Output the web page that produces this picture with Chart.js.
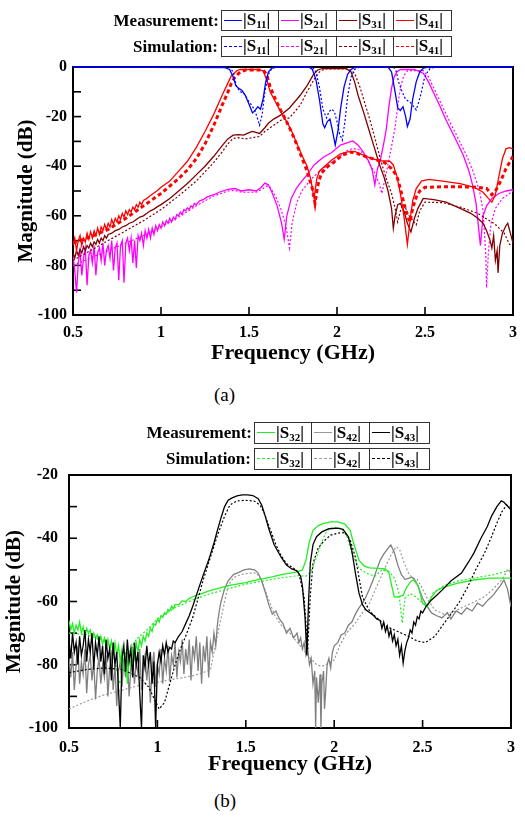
<!DOCTYPE html>
<html><head><meta charset="utf-8">
<script src="https://cdn.jsdelivr.net/npm/chart.js@4.4.1/dist/chart.umd.min.js"></script>
<style>
html,body{margin:0;padding:0;background:#fff;}
body{width:525px;height:822px;position:relative;overflow:hidden;font-family:"Liberation Serif","Times New Roman",serif;}
canvas{position:absolute;left:0;}
.lab{position:absolute;font-weight:bold;font-size:17px;text-align:right;white-space:nowrap;}
.cell{position:absolute;box-sizing:border-box;border:1.5px solid #333;background:#fff;}
.smp{position:absolute;left:2px;width:18px;height:0;}
.txt{position:absolute;left:21px;top:0;font-weight:bold;font-size:17px;white-space:nowrap;}
.txt sub{font-size:11px;vertical-align:-3px;line-height:0;}
.cap{position:absolute;font-size:19px;}
</style>
</head><body>
<canvas id="ca" width="525" height="367" style="top:0px"></canvas>
<canvas id="cb" width="525" height="358" style="top:420px"></canvas>
<div class="cap" style="left:214px;top:384px;">(a)</div>
<div class="cap" style="left:214px;top:790px;">(b)</div>
<script>
// ---------- shared frequency grid for noisy regions (GHz) ----------
const fGrid = [0.50,0.51,0.52,0.53,0.54,0.55,0.56,0.57,0.58,0.59,0.60,0.61,0.62,0.63,0.64,0.65,0.66,0.67,0.68,0.69,0.70,0.71,0.72,0.73,0.74,0.75,0.76,0.77,0.78,0.79,0.80,0.81,0.82,0.83,0.84,0.85,0.86,0.87,0.88,0.89,0.90,0.91,0.92,0.93,0.94,0.95,0.96,0.97,0.98,0.99,1.00,1.01,1.02,1.03,1.04,1.05,1.06,1.07,1.08,1.09,1.10,1.11,1.12,1.13,1.14,1.15,1.16,1.17,1.18,1.19,1.20,1.21,1.22,1.23,1.24,1.25,1.26,1.27,1.28,1.29,1.30];

// ---------- tick labels ----------
const xTickLabels = ['0.5','1','1.5','2','2.5','3'];
const yTickLabelsA = ['0','-20','-40','-60','-80','-100'];
const yTickLabelsB = ['-20','-40','-60','-80','-100'];

// ---------- legend categories ----------
const legendA = ['11','21','31','41'];
const legendB = ['32','42','43'];

// ================= Chart (a) =================
// |S11| measured
const fS11m = [0.5,1.36,1.39,1.41,1.425,1.44,1.46,1.48,1.50,1.52,1.535,1.55,1.565,1.58,1.595,1.61,1.63,1.66,1.84,1.86,1.88,1.90,1.92,1.93,1.945,1.96,1.975,1.99,2.005,2.02,2.04,2.06,2.08,2.10,2.13,2.29,2.31,2.33,2.345,2.36,2.375,2.39,2.40,2.415,2.43,2.45,2.47,2.49,2.52,3.0];
const s11m = [0,-0.2,-1,-4,-7.5,-8.5,-9.5,-11.5,-15,-18.5,-17.5,-16,-17,-13,-6,-2,-0.4,0,0,-1,-5,-13,-23,-24.5,-22,-21,-26,-31.5,-26,-17,-8,-3,-1,-0.2,0,0,-2,-10,-16.5,-17.5,-16,-20,-24,-21,-13,-6,-2,-0.5,0,0];
// |S11| simulated
const fS11s = [0.5,1.39,1.41,1.43,1.45,1.47,1.49,1.51,1.53,1.545,1.56,1.575,1.59,1.61,1.63,1.66,1.86,1.88,1.90,1.92,1.94,1.955,1.97,1.985,2.00,2.015,2.03,2.045,2.06,2.08,2.10,2.13,2.32,2.335,2.35,2.37,2.39,2.42,2.45,2.465,2.48,2.495,2.51,2.53,2.56,3.0];
const s11s = [0,0,-2,-8,-10,-10.5,-13,-15,-17,-20,-23.5,-19,-10,-3,-0.5,0,0,-2,-8,-17,-20.5,-18,-17,-18,-22,-27,-29.5,-22,-12,-4,-1,0,0,-1.5,-6,-10,-13,-14.5,-17.3,-14,-10,-5,-2.5,-0.5,0,0];

// |S21| measured
const fS21m = fGrid.slice(0,71).concat([1.22,1.24,1.26,1.28,1.30,1.33,1.36,1.38,1.42,1.46,1.50,1.54,1.57,1.59,1.61,1.63,1.66,1.685,1.70,1.715,1.74,1.77,1.80,1.83,1.87,1.92,1.97,2.02,2.06,2.09,2.12,2.15,2.18,2.20,2.215,2.23,2.245,2.265,2.28,2.295,2.31,2.325,2.34,2.36,2.44,2.49,2.52,2.546,2.58,2.62,2.67,2.717,2.75,2.77,2.79,2.815,2.83,2.85,2.88,2.92,2.96,3.0]);
const s21m = [-76,-82,-91,-79,-74,-84,-77,-73,-88,-76,
  -74,-79,-72,-84,-75,-73,-78,-71,-80,-74,
  -72,-77,-70,-82,-73,-71,-86,-72,-70,-87,
  -71,-69,-74,-69,-79,-70,-81,-68,-70,-67,
  -72,-66,-69,-65.5,-69,-65,-67.5,-64,-66,-63.5,
  -65,-62.5,-64,-62,-63,-61,-62.5,-60.5,-61.5,-59.5,
  -60,-58.5,-59.5,-57.5,-58,-56.8,-57.5,-56,-56.5,-55,
  -55.5,
  -54,-53.5,-52.5,-52,-51.5,-50.5,-49.8,-49.3,-49,-50,-49.5,-50,-48.5,-46.8,-47.5,-50.5,-56,-63,-69.5,-60,-53,-48.8,-46,-43.5,-39.5,-36.5,-34.5,-31.5,-30.5,-29.8,-31.5,-34.3,-38,-41.5,-47.5,-41,-38,-31,-25,-16,-8.5,-4,-2,-1,-1,-2.5,-6,-10,-15,-21.5,-28.5,-35.5,-42,-47.5,-55,-72,-60,-56,-53,-51,-50,-49.5];
// |S21| simulated
const fS21s = [0.5,0.6,0.7,0.8,0.9,1.0,1.1,1.2,1.3,1.38,1.42,1.46,1.50,1.54,1.58,1.60,1.62,1.65,1.68,1.71,1.73,1.745,1.77,1.80,1.85,1.90,1.95,2.00,2.05,2.09,2.13,2.17,2.21,2.24,2.255,2.27,2.285,2.31,2.33,2.35,2.365,2.38,2.40,2.49,2.52,2.56,2.60,2.64,2.69,2.735,2.77,2.81,2.83,2.845,2.85,2.86,2.875,2.9,2.94,3.0];
const s21s = [-80,-77,-74,-71,-68,-64.5,-60.5,-56,-52,-50,-49.8,-50.5,-50.5,-50.5,-49,-48,-48.5,-52,-57,-64,-73,-63,-55,-50,-45.5,-42,-39.5,-37,-34,-32.8,-33.5,-37,-42,-47,-51,-46,-41,-32,-24.5,-13,-7,-3.5,-1.5,-1.5,-4,-10,-16,-22,-29,-35.5,-41.5,-50,-58,-75,-89,-75,-63,-57,-53,-50];

// |S31| measured
const fS31m = fGrid.slice(0,21).concat([0.72,0.74,0.76,0.78,0.80,0.82,0.84,0.86,0.88,0.90,0.92,0.94,0.96,0.98,1.0,1.05,1.1,1.15,1.2,1.25,1.3,1.35,1.38,1.41,1.44,1.47,1.50,1.52,1.56,1.59,1.61,1.64,1.68,1.73,1.79,1.83,1.865,1.89,1.92,2.05,2.08,2.10,2.12,2.15,2.18,2.21,2.24,2.27,2.29,2.31,2.32,2.33,2.345,2.36,2.38,2.40,2.42,2.44,2.46,2.49,2.55,2.62,2.70,2.76,2.80,2.83,2.85,2.87,2.88,2.89,2.90,2.91,2.915,2.925,2.94,2.96,2.97,2.985,3.0]);
const s31m = [-75,-77,-74,-76,-73.5,-75,-72.5,-74,-72,-73,-71,-72.5,-70.5,-71.5,-69.5,-71,-69,-70,-68,-69,-67.5,
  -67,-66,-65.5,-64.5,-64,-63,-62.5,-61.5,-60.5,-60,-59,-58,-57.3,-56.3,-55.5,-53,-50,-47,-43.5,-40,-36,-31.5,-29,-27.5,-27.3,-27.5,-26.5,-26,-26.8,-24.5,-22.7,-21,-19.4,-16.5,-11.5,-7.5,-3.2,-1.2,-0.6,-0.6,-2,-6,-11.5,-18,-25,-32,-39,-45,-50,-57,-65,-60,-55.5,-55,-58,-63,-66.5,-61,-57,-53,-53.5,-54.5,-57,-59,-61,-63,-66,-70,-73,-68,-78,-74,-83,-72,-67,-64,-63,-67,-71];
// |S31| simulated
const fS31s = [0.5,0.6,0.7,0.8,0.9,1.0,1.1,1.2,1.3,1.35,1.38,1.41,1.44,1.48,1.52,1.56,1.59,1.62,1.68,1.73,1.79,1.83,1.87,1.90,1.93,2.07,2.10,2.13,2.16,2.19,2.22,2.25,2.28,2.31,2.33,2.345,2.36,2.375,2.39,2.41,2.45,2.47,2.50,2.6,2.7,2.8,2.9,2.95,2.98,3.0];
const s31s = [-78,-74,-70,-66,-62,-57.5,-52,-46,-38.5,-34,-31,-28.8,-28.5,-29,-28.5,-28,-26,-24.5,-21.5,-20.5,-15.5,-10,-5,-2,-0.8,-0.8,-2.5,-8,-15,-22,-30,-38,-45,-51,-57,-62.5,-58,-55.5,-57,-60,-63.7,-58,-54.5,-54.7,-56.5,-59,-63.5,-67,-71.5,-72];

// |S41| measured
const fS41m = fGrid.slice(0,41).concat([0.92,0.94,0.96,0.98,1.0,1.05,1.1,1.15,1.2,1.25,1.3,1.35,1.38,1.40,1.43,1.45,1.55,1.58,1.60,1.62,1.65,1.68,1.71,1.74,1.77,1.80,1.83,1.85,1.87,1.885,1.90,1.93,1.97,2.02,2.06,2.10,2.15,2.20,2.25,2.30,2.32,2.34,2.36,2.38,2.40,2.415,2.43,2.45,2.48,2.52,2.6,2.7,2.78,2.83,2.86,2.88,2.90,2.92,2.94,2.96,2.98,3.0]);
const s41m = [-72,-69,-74,-70,-68,-72,-69,-70.5,-67,-69.5,
  -66.5,-69,-66,-68,-65,-67.5,-64.5,-66,-63.5,-65.5,
  -63,-64.5,-61.5,-63.5,-61,-62.5,-60,-61.5,-59,-60.5,
  -58,-59.5,-57.5,-58.5,-56.5,-57.5,-55.5,-56.5,-54.5,-55.5,
  -53.8,
  -53,-51.8,-50.8,-49.8,-48.5,-46,-42,-38,-32.5,-26,-19,-11,-6.5,-3.5,-1.5,-1,-1,-1.5,-5,-10,-14,-18,-21.5,-25.5,-30.5,-35.5,-40,-45,-53,-45,-42,-40,-37.5,-35,-34.2,-34,-35.5,-37,-37.8,-38,-39.5,-44,-51,-60,-71.5,-62,-54,-49,-46,-45.3,-46,-47,-48.5,-50.5,-53,-54.5,-51.5,-44,-37,-33,-32.5,-33];
// |S41| simulated
const fS41s = [0.5,0.6,0.7,0.8,0.9,1.0,1.05,1.1,1.15,1.2,1.25,1.28,1.3,1.35,1.375,1.40,1.42,1.45,1.48,1.58,1.60,1.62,1.65,1.68,1.71,1.74,1.77,1.80,1.83,1.86,1.875,1.89,1.91,1.94,1.98,2.03,2.08,2.12,2.17,2.22,2.27,2.31,2.34,2.36,2.38,2.40,2.415,2.43,2.45,2.47,2.50,2.6,2.7,2.8,2.85,2.88,2.90,2.93,2.96,3.0];
const s41s = [-71,-68.5,-65.5,-61,-56,-51,-48,-45,-41.5,-37,-31,-26.5,-23.5,-15,-11,-6.5,-4,-2,-1.2,-1.2,-3,-8,-13,-17.5,-21.5,-26,-31,-36.5,-42,-49,-55,-48,-43,-40.5,-38.5,-35.5,-34.3,-35,-36.3,-37.3,-38.5,-41,-44,-49,-55,-60,-62.5,-57,-52.5,-50,-48.5,-48.3,-48.3,-48.5,-49,-51.5,-50,-46,-41,-36];

// ================= Chart (b) =================
// |S32| measured
const fS32m = fGrid.slice(0,61).concat([1.12,1.14,1.16,1.18,1.20,1.25,1.30,1.35,1.40,1.45,1.50,1.55,1.60,1.65,1.70,1.75,1.79,1.82,1.84,1.86,1.88,1.91,1.94,1.98,2.02,2.06,2.09,2.11,2.14,2.17,2.20,2.25,2.29,2.31,2.325,2.34,2.365,2.39,2.41,2.435,2.45,2.475,2.50,2.525,2.55,2.58,2.61,2.65,2.70,2.79,2.88,3.0]);
const s32m = [-66,-69,-67,-70,-67.5,-69,-66.5,-70,-68,-71,
  -68.5,-70,-69,-72,-70,-71.5,-70.5,-73,-71,-73.5,
  -71.5,-74,-72,-75,-72.5,-76,-73,-77,-74,-79,
  -75,-82,-76,-86,-77,-80,-75,-78,-73,-76,
  -72,-74,-71,-72.5,-70,-71,-68.5,-69.5,-67,-67.5,
  -65.5,-66.5,-64.5,-65,-63.5,-64,-62.5,-63,-61.5,-62.3,
  -61,
  -61,-59.8,-60,-59,-58.5,-57.5,-56.5,-55.8,-55,-54.5,-54,-53.3,-52.8,-52.2,-51.5,-51,-50.6,-50,-47,-41,-37.5,-36,-35.3,-34.8,-34.8,-35.5,-37.5,-41.6,-46.9,-48.8,-49.4,-49.5,-49.7,-51,-55,-58.6,-58.5,-58,-55.5,-53.5,-53.2,-55,-60.5,-61.7,-58.6,-56.5,-55.7,-55,-54.2,-53.2,-52.6,-52.6];
// |S32| simulated
const fS32s = [0.5,0.6,0.7,0.73,0.76,0.785,0.81,0.84,0.88,0.9,0.95,1.0,1.1,1.2,1.3,1.4,1.5,1.6,1.7,1.8,1.84,1.87,1.90,1.93,1.96,2.0,2.04,2.07,2.10,2.14,2.18,2.23,2.27,2.31,2.34,2.365,2.385,2.40,2.43,2.46,2.49,2.53,2.56,2.62,2.7,2.8,2.9,3.0];
const s32s = [-70,-70.5,-72.5,-74,-79,-86,-82,-76,-72,-71,-68.5,-65.5,-62,-59.5,-57.5,-56,-54.5,-53.5,-52.5,-51.8,-52,-50.5,-46,-41,-37.5,-36.5,-37,-39,-44.8,-49.5,-51,-52,-50,-50.5,-52.5,-57,-66.8,-59,-57.5,-58.5,-60,-61,-57.3,-55,-53.5,-52.5,-51.5,-50];

// |S42| measured
const fS42m = fGrid.concat([1.31,1.32,1.33,1.34,1.35,1.36,1.37,1.38,1.40,1.43,1.46,1.49,1.52,1.55,1.57,1.59,1.61,1.63,1.65,1.67,1.69,1.71,1.73,1.75,1.77,1.79,1.80,1.81,1.82,1.83,1.84,1.85,1.86,1.87,1.88,1.89,1.895,1.90,1.91,1.92,1.925,1.93,1.94,1.945,1.95,1.96,1.97,1.98,1.99,2.00,2.02,2.04,2.06,2.08,2.10,2.12,2.14,2.16,2.18,2.20,2.22,2.24,2.26,2.28,2.30,2.32,2.34,2.36,2.38,2.40,2.42,2.44,2.46,2.48,2.50,2.52,2.55,2.58,2.61,2.64,2.66,2.69,2.72,2.75,2.78,2.81,2.84,2.87,2.90,2.92,2.94,2.96,2.98,3.0]);
const s42m = [-78,-84,-76,-88,-80,-74,-86,-79,-83,-75,
  -89,-80,-77,-85,-79,-91,-82,-78,-86,-80,
  -84,-77,-90,-81,-76,-88,-80,-93,-82,-79,
  -87,-78,-84,-76,-90,-81,-77,-86,-79,-83,
  -75,-88,-80,-77,-85,-79,-92,-81,-76,-87,
  -80,-83,-75,-86,-78,-82,-74,-85,-77,-80,
  -73,-84,-76,-79,-72,-83,-75,-80,-72,-85,
  -74,-78,-71,-82,-73,-86,-74,-79,-71,-84,
  -73,
  -76,-70,-74,-67,-63,-60,-58,-56,-53.5,-51.5,-50.8,-50,-49.7,-50,-51,-53.5,-57,-61,-64,-63,-65.5,-67,-70,-68.5,-71.5,-70,-73,-71.5,-75,-73,-77,-75,-80,-78,-86,-82,-100,-84,-92,-83,-100,-86,-82,-94,-90,-80,-78,-81,-76,-74,-73,-70.5,-70,-67.5,-66.5,-64,-62,-60.5,-58.5,-56,-53.2,-50,-47,-45,-43.5,-42.1,-44.5,-48.5,-51.5,-53,-52.7,-52.3,-53.5,-56,-59,-61,-63.6,-64.5,-65.2,-63.5,-65.5,-63,-64,-62,-63,-60.5,-61.5,-59.5,-58,-56.4,-55,-53.2,-56,-61.7];
// |S42| simulated
const fS42s = [0.5,0.6,0.7,0.8,0.9,1.0,1.1,1.2,1.3,1.32,1.35,1.38,1.40,1.43,1.47,1.52,1.56,1.59,1.62,1.66,1.70,1.75,1.80,1.85,1.90,1.93,1.97,2.00,2.03,2.07,2.12,2.16,2.20,2.25,2.29,2.32,2.35,2.37,2.39,2.42,2.44,2.47,2.50,2.53,2.57,2.62,2.67,2.72,2.78,2.85,2.9,2.95,2.98,3.0];
const s42s = [-94,-91.5,-89.5,-88,-86.5,-85.5,-84.5,-83.5,-81.7,-76,-68,-60,-55,-52.5,-51.5,-51,-51,-53.5,-58,-64,-67.5,-70,-73.5,-77,-80,-80.5,-79.5,-78.5,-74,-70,-66.8,-63.5,-60.5,-54,-49,-45.5,-42.7,-43.5,-47,-51,-52.5,-53,-56,-59.5,-62.7,-64,-63.5,-62,-60.5,-58.5,-56,-53,-50,-51];

// |S43| measured
const fS43m = fGrid.slice(0,61).concat([1.12,1.14,1.16,1.18,1.20,1.23,1.26,1.29,1.32,1.34,1.36,1.38,1.40,1.42,1.45,1.48,1.51,1.54,1.57,1.59,1.61,1.63,1.66,1.70,1.73,1.76,1.79,1.81,1.82,1.835,1.845,1.855,1.865,1.88,1.90,1.93,1.97,2.02,2.05,2.08,2.10,2.12,2.14,2.16,2.18,2.20,2.22,2.24,2.26,2.27,2.28,2.29,2.30,2.31,2.32,2.33,2.34,2.35,2.36,2.37,2.38,2.39,2.40,2.41,2.42,2.43,2.44,2.45,2.46,2.47,2.48,2.49,2.50,2.52,2.55,2.58,2.61,2.66,2.72,2.76,2.79,2.83,2.866,2.89,2.92,2.945,2.96,2.98,3.0]);
const s43m = [-72,-78,-70,-76,-73,-80,-71,-77,-74,-69,
  -79,-72,-76,-70,-81,-73,-77,-71,-79,-74,
  -83,-72,-78,-75,-85,-73,-80,-76,-88,-100,
  -78,-74,-82,-72,-79,-75,-84,-73,-80,-76,
  -89,-100,-77,-81,-74,-80,-76,-86,-79,-100,
  -80,-76,-79,-74,-77,-73,-76,-74.5,-75,-72.5,
  -73,
  -71,-69.5,-67,-64.5,-61.5,-56.4,-51.5,-46.9,-41.5,-37.4,-33.5,-30,-28,-27.3,-26.6,-26.3,-26.3,-26.5,-27.5,-29.5,-33,-37,-42,-46,-48.5,-49.7,-50.3,-52,-55,-65,-77,-60,-47.8,-42,-39.5,-38,-37,-36.8,-37.2,-39.5,-44,-51,-57.3,-61,-62.7,-63.5,-64.3,-65.5,-66,-68.5,-66.5,-69.5,-67.8,-71,-69,-72.5,-70.5,-74,-72,-77,-74,-79.5,-75.5,-73,-71.5,-69,-70,-66.5,-67.5,-64.8,-65.5,-63,-63.6,-61.5,-59.5,-58,-56.4,-53.5,-51,-47.5,-44.7,-40,-36.3,-33,-30,-28.2,-28.6,-29.8,-31];
// |S43| simulated
const fS43s = [0.5,0.6,0.7,0.8,0.9,0.95,0.98,1.01,1.04,1.07,1.10,1.13,1.16,1.20,1.23,1.26,1.30,1.34,1.38,1.41,1.45,1.50,1.55,1.58,1.60,1.63,1.67,1.70,1.73,1.77,1.80,1.83,1.85,1.865,1.88,1.91,1.94,1.98,2.02,2.06,2.09,2.12,2.16,2.20,2.235,2.30,2.36,2.42,2.47,2.515,2.57,2.62,2.665,2.71,2.755,2.80,2.85,2.89,2.92,2.95,2.975,3.0];
const s43s = [-82.5,-81.5,-81,-81.5,-84,-87,-90.5,-94,-92,-86,-80,-75,-71,-65,-59,-53,-46,-39,-33,-29.5,-28.2,-28,-28.3,-29.5,-31.5,-36,-42,-45.5,-48,-49.5,-51,-58.6,-75,-58,-48,-43,-41,-39,-38.4,-38.2,-40.5,-46,-58.6,-63,-64.9,-68,-69.5,-71,-72.5,-73,-71,-67,-63.6,-60,-55.4,-50,-44.7,-39.5,-35.2,-31.5,-29.5,-30];

// ---------- helpers ----------
const FONT = '"Liberation Serif","Times New Roman",serif';
const mk = (f, v) => f.map((x, i) => ({x: x, y: v[i]}));
function line(f, v, color, kind, clip) {
  const d = {data: mk(f, v), borderColor: color, backgroundColor: color, fill: false, pointRadius: 0, tension: 0};
  if (kind === 'm') { d.borderWidth = 1.3; }
  else if (kind === 'thick') { d.borderWidth = 3; d.borderDash = [4, 3]; }
  else { d.borderWidth = 1.2; d.borderDash = [2, 2]; }
  if (clip !== undefined) d.clip = clip;
  return d;
}
const boxPlugin = {
  id: 'box',
  beforeDatasetsDraw(chart) {
    const ctx = chart.ctx, a = chart.chartArea, xs = chart.scales.x, ys = chart.scales.y;
    ctx.save();
    ctx.strokeStyle = '#000';
    ctx.lineWidth = 2;
    ctx.strokeRect(a.left, a.top, a.right - a.left, a.bottom - a.top);
    ctx.lineWidth = 1.6;
    xs.ticks.forEach(t => { const p = xs.getPixelForValue(t.value); ctx.beginPath(); ctx.moveTo(p, a.bottom); ctx.lineTo(p, a.bottom - 8); ctx.stroke(); });
    ys.ticks.forEach(t => { const p = ys.getPixelForValue(t.value); ctx.beginPath(); ctx.moveTo(a.left, p); ctx.lineTo(a.left + 8, p); ctx.stroke(); });
    ctx.restore();
  }
};
function options(c) {
  return {
    responsive: false, animation: false, devicePixelRatio: 1,
    layout: {padding: {top: c.padTop, right: c.padRight, left: 0, bottom: 0}},
    plugins: {legend: {display: false}, tooltip: {enabled: false}},
    scales: {
      x: {type: 'linear', min: 0.5, max: 3,
        grid: {display: false, drawTicks: false}, border: {display: false},
        ticks: {stepSize: 0.5, autoSkip: false, maxRotation: 0, color: '#000', padding: c.xTickPad,
          font: {family: FONT, size: 16, weight: 'bold'},
          callback: v => { const s = String(Math.round(v * 10) / 10); return xTickLabels.includes(s) ? s : ''; }},
        title: {display: true, text: 'Frequency (GHz)', color: '#000', padding: {top: 0, bottom: 0},
          font: {family: FONT, size: 22, weight: 'bold'}},
        afterFit: s => { s.height = c.xH; }
      },
      y: {type: 'linear', min: -100, max: c.yMax,
        grid: {display: false, drawTicks: false}, border: {display: false},
        ticks: {stepSize: 10, autoSkip: false, color: '#000', padding: c.yTickPad,
          font: {family: FONT, size: 16, weight: 'bold'},
          callback: v => { const s = String(Math.round(v)); return c.yLabels.includes(s) ? s : ''; }},
        title: {display: true, text: 'Magnitude (dB)', color: '#000', padding: {top: c.yTitlePad, bottom: 0},
          font: {family: FONT, size: 21, weight: 'bold'}},
        afterFit: s => { s.width = c.yW; }
      }
    }
  };
}

new Chart(document.getElementById('ca'), {
  type: 'line',
  data: {datasets: [
    line(fS11m, s11m, '#0000ff', 'm', 2),
    line(fS11s, s11s, '#0000ff', 's', 2),
    line(fS41s, s41s, '#ff0000', 'thick'),
    line(fS41m, s41m, '#ff0000', 'm'),
    line(fS31m, s31m, '#800000', 'm'),
    line(fS31s, s31s, '#800000', 's'),
    line(fS21m, s21m, '#ff00ff', 'm'),
    line(fS21s, s21s, '#ff00ff', 's')
  ]},
  options: options({padTop: 67, padRight: 12, xTickPad: 8, xH: 52, yTickPad: 6, yW: 73, yTitlePad: 14, yMax: 0, yLabels: yTickLabelsA}),
  plugins: [boxPlugin]
});

new Chart(document.getElementById('cb'), {
  type: 'line',
  data: {datasets: [
    line(fS43m, s43m, '#000000', 'm'),
    line(fS43s, s43s, '#000000', 's'),
    line(fS32m, s32m, '#22ee22', 'm'),
    line(fS32s, s32s, '#22ee22', 's'),
    line(fS42m, s42m, '#808080', 'm'),
    line(fS42s, s42s, '#9a9a9a', 's')
  ]},
  options: options({padTop: 55, padRight: 7, xTickPad: 10, xH: 50, yTickPad: 11, yW: 69, yTitlePad: 2, yMax: -20, yLabels: yTickLabelsB}),
  plugins: [boxPlugin]
});

// ---------- HTML legends ----------
function legendRow(text, labRight, bounds, top, h, subs, colors, dotted) {
  const lab = document.createElement('div');
  lab.className = 'lab';
  lab.style.right = (525 - labRight) + 'px';
  lab.style.top = top + 'px';
  lab.style.lineHeight = h + 'px';
  lab.textContent = text;
  document.body.appendChild(lab);
  subs.forEach((s, i) => {
    const c = document.createElement('div');
    c.className = 'cell';
    c.style.left = bounds[i] + 'px';
    c.style.top = top + 'px';
    c.style.width = (bounds[i + 1] - bounds[i] + 1.5) + 'px';
    c.style.height = h + 'px';
    const sm = document.createElement('div');
    sm.className = 'smp';
    sm.style.top = (h / 2 - 1.5) + 'px';
    sm.style.borderTop = dotted ? ('1.2px dashed ' + colors[i]) : ('1.5px solid ' + colors[i]);
    c.appendChild(sm);
    const t = document.createElement('div');
    t.className = 'txt';
    t.style.lineHeight = (h - 3) + 'px';
    t.innerHTML = '|S<sub>' + s + '</sub>|';
    c.appendChild(t);
    document.body.appendChild(c);
  });
}
const colA = ['#0000ff', '#ff00ff', '#800000', '#ff0000'];
const colB = ['#22ee22', '#999999', '#000000'];
legendRow('Measurement:', 219, [221, 278, 336, 393, 450], 9.5, 21.5, legendA, colA, false);
legendRow('Simulation:', 218, [221, 278, 336, 393, 450], 35.5, 21.5, legendA, colA, true);
legendRow('Measurement:', 252, [254, 311, 369, 428], 421.5, 22, legendB, colB, false);
legendRow('Simulation:', 251, [254, 311, 369, 428], 447.5, 22.5, legendB, colB, true);
</script>
</body></html>
